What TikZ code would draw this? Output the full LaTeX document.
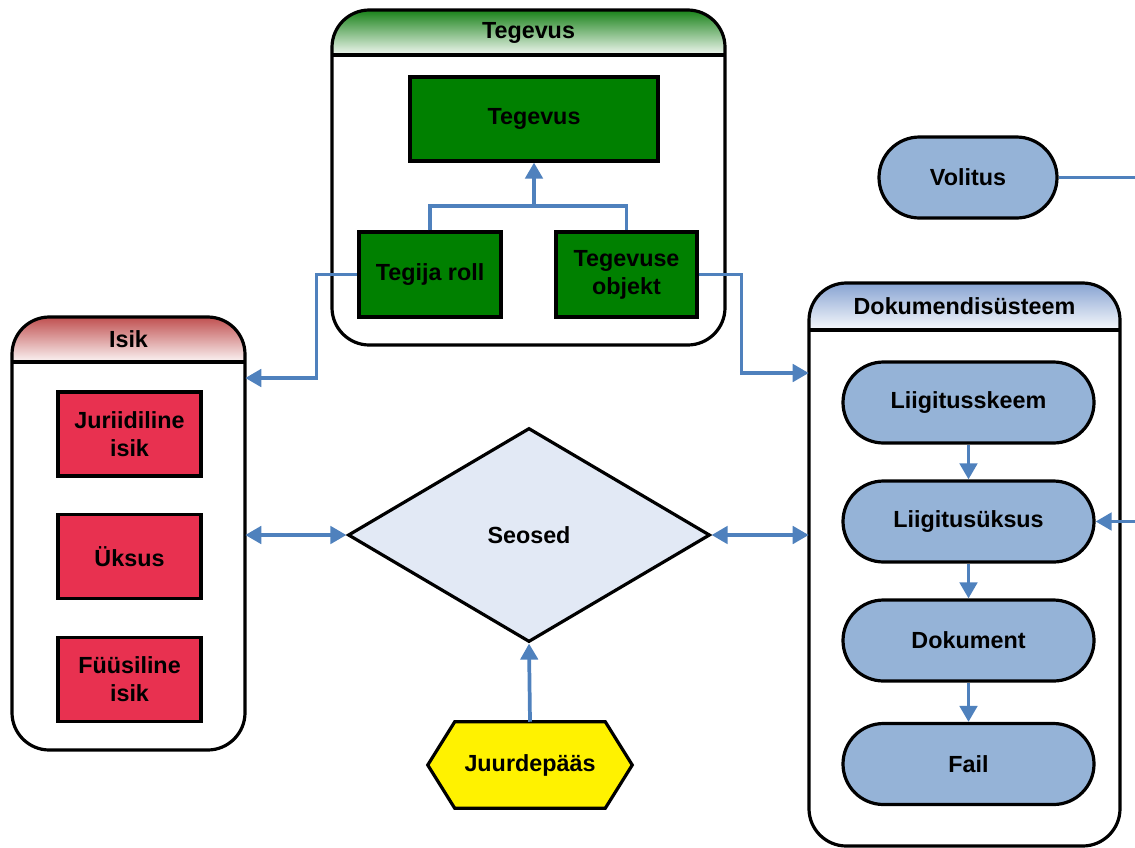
\documentclass[tikz,border=0pt]{standalone}
\usepackage{fontspec}
\setmainfont{Liberation Sans}
\usetikzlibrary{arrows.meta,shapes.geometric,shapes.misc,fit,backgrounds}

\definecolor{arrowblue}{RGB}{79,129,189}
\definecolor{actgreen}{RGB}{0,128,0}
\definecolor{personred}{RGB}{232,49,80}
\definecolor{docblue}{RGB}{149,179,215}
\definecolor{diamondfill}{RGB}{226,233,245}
\definecolor{hdrgreen}{RGB}{25,130,25}
\definecolor{hdrred}{RGB}{192,80,80}
\definecolor{hdrblue}{RGB}{135,163,210}

\tikzset{
 lbl/.style={font=\bfseries\fontsize{17.5}{21}\selectfont, text=black, align=center},
 outl/.style={draw=black, line width=2.4pt},
 greenbox/.style={lbl, outl, fill=actgreen, rectangle, inner sep=0},
 redbox/.style={lbl, outl, fill=personred, rectangle, inner sep=0, minimum width=107.25pt, minimum height=63pt},
 stadium/.style={lbl, outl, fill=docblue, rounded rectangle, inner sep=0, minimum width=188.25pt, minimum height=60.75pt},
 conn/.style={draw=arrowblue, line width=2.8pt, -{Triangle[length=12pt,width=13pt]}},
 dconn/.style={draw=arrowblue, line width=2.8pt, {Triangle[length=12pt,width=13pt]}-{Triangle[length=12pt,width=13pt]}},
 link/.style={draw=arrowblue, line width=2.8pt},
}

% #1 name, #2 x1, #3 y1, #4 x2, #5 y2, #6 header bottom y, #7 header colour, #8 title
\newcommand\groupbox[8]{%
  \node[fit={(#2,#3) (#4,#5)}, inner sep=0] (#1) {};
  \fill[white, rounded corners=28pt] (#2,#3) rectangle (#4,#5);
  \begin{scope}
    \clip[rounded corners=28pt] (#2,#3) rectangle (#4,#5);
    \shade[top color=#7, bottom color=#7!6] (#2,#3) rectangle (#4,#6);
  \end{scope}
  \draw[outl, rounded corners=28pt] (#2,#3) rectangle (#4,#5);
  \draw[outl] (#2,#6) -- (#4,#6);
  \node[lbl] (#1-title) at ({(#2+#4)/2},{(#3+#6)/2}) {#8};
}

\begin{document}
\begin{tikzpicture}[x=0.75pt,y=0.75pt]
\useasboundingbox (0,0) rectangle (1135,-847);

\groupbox{tegevusgrp}{332}{-10}{725}{-345}{-55}{hdrgreen}{Tegevus}
\groupbox{isik}{12}{-317}{245}{-750}{-362}{hdrred}{Isik}
\groupbox{dok}{809}{-283}{1120}{-846}{-330}{hdrblue}{Dokumendisüsteem}

\node[greenbox, minimum width=186pt, minimum height=63pt] (tegevus) at (534,-119) {Tegevus};
\node[greenbox, minimum width=106.5pt, minimum height=63.75pt] (tegija) at (430,-274.5) {Tegija roll};
\node[greenbox, minimum width=105.75pt, minimum height=63.75pt] (objekt) at (626.5,-274.5) {Tegevuse\\objekt};

\node[redbox] (juri) at (129.5,-434) {Juriidiline\\isik};
\node[redbox] (yksus) at (129.5,-556.5) {Üksus};
\node[redbox] (fyys) at (129.5,-679.5) {Füüsiline\\isik};

\node[lbl, outl, diamond, fill=diamondfill, inner sep=0, minimum width=271.5pt, minimum height=160.5pt] (seosed) at (529,-535) {Seosed};

\node[lbl, inner sep=0, minimum width=153pt, minimum height=64.5pt] (jp) at (530,-765) {Juurdepääs};
\begin{scope}[on background layer]
\draw[outl, fill=yellow, line join=miter] (jp.west) -- ([xshift=20.25pt]jp.north west) -- ([xshift=-20.25pt]jp.north east) -- (jp.east) -- ([xshift=-20.25pt]jp.south east) -- ([xshift=20.25pt]jp.south west) -- cycle;
\end{scope}

\node[stadium, minimum width=133.5pt] (volitus) at (968,-177.5) {Volitus};
\node[stadium] (skeem) at (968.5,-402.5) {Liigitusskeem};
\node[stadium] (yksus2) at (968.5,-521.5) {Liigitusüksus};
\node[stadium] (dokument) at (968.5,-640.5) {Dokument};
\node[stadium] (fail) at (968.5,-764) {Fail};

\draw[link] (tegija.north) |- (objekt.north |- 0,-206) -- (objekt.north);
\draw[conn] (tegevus.south |- 0,-206) -- (tegevus.south);
\draw[conn] (tegija.west) -- ++(-41,0) |- (isik.east |- 0,-378);
\draw[conn] (objekt.east) -- ++(43,0) |- (dok.west |- 0,-373);
\draw[dconn] (isik.east |- seosed.west) -- (seosed.west);
\draw[dconn] (seosed.east) -- (dok.west |- seosed.east);
\draw[conn] (jp.north) -- (seosed.south);
\draw[conn] (skeem.south) -- (yksus2.north);
\draw[conn] (yksus2.south) -- (dokument.north);
\draw[conn] (dokument.south) -- (fail.north);
\draw[conn] (volitus.east) -- ++(110,0) |- (yksus2.east);
\end{tikzpicture}
\end{document}
